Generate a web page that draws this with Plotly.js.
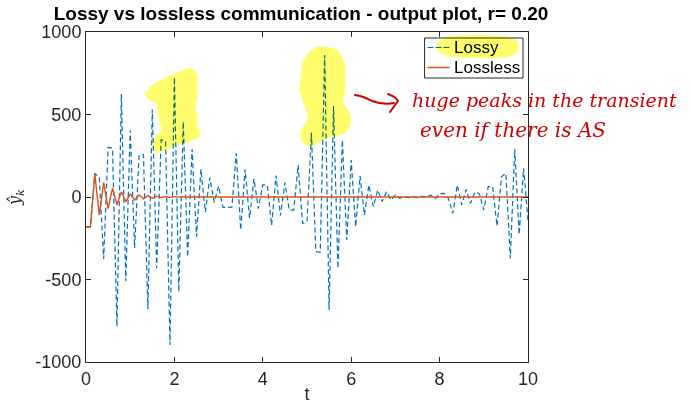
<!DOCTYPE html>
<html><head><meta charset="utf-8">
<script src="https://cdn.plot.ly/plotly-3.0.1.min.js"></script>
<style>html,body{margin:0;padding:0;background:#fff}#chart{width:691px;height:404px}</style>
</head><body><div id="chart"></div>
<script>
// ---- data ----
const t = [0,0.1,0.2,0.3,0.4,0.5,0.6,0.7,0.8,0.9,
 1,1.1,1.2,1.3,1.4,1.5,1.6,1.7,1.8,1.9,
 2,2.1,2.2,2.3,2.4,2.5,2.6,2.7,2.8,2.9,
 3,3.1,3.2,3.3,3.4,3.5,3.6,3.7,3.8,3.9,
 4,4.1,4.2,4.3,4.4,4.5,4.6,4.7,4.8,4.9,
 5,5.1,5.2,5.3,5.4,5.5,5.6,5.7,5.8,5.9,
 6,6.1,6.2,6.3,6.4,6.5,6.6,6.7,6.8,6.9,
 7,7.1,7.2,7.3,7.4,7.5,7.6,7.7,7.8,7.9,
 8,8.1,8.2,8.3,8.4,8.5,8.6,8.7,8.8,8.9,
 9,9.1,9.2,9.3,9.4,9.5,9.6,9.7,9.8,9.9,10];

const lossy = [-180,-180,143,120,-375,301,295,-784,624,-511,
 404,-309,250,258,-680,530,-432,347,337,-897,
 725,-574,455,-362,290,-240,169,-92,118,-32,
 66,-63,-63,-62,265,-200,168,-129,110,-70,
 73,73,-172,130,-112,87,-79,-79,194,-160,
 -150,390,-331,-335,860,-685,551,-432,345,-260,
 224,-180,127,-109,73,-59,42,-28,32,-18,
 12,-8,2,-4,2,-6,4,0,12,-10,
 20,22,-10,-99,73,-48,46,-38,30,20,
 -79,63,63,-176,123,143,-372,290,-228,174,
 -139];

const lossless = [-182,-182,140,-110,89,-71,54,-48,32,-28,
 18,-18,12,-11,8,-7,5,-4,3,-3,
 2,-1,1,0,0,0,0,0,0,0,
 0,0,0,0,0,0,0,0,0,0,
 0,0,0,0,0,0,0,0,0,0,
 0,0,0,0,0,0,0,0,0,0,
 0,0,0,0,0,0,0,0,0,0,
 0,0,0,0,0,0,0,0,0,0,
 0,0,0,0,0,0,0,0,0,0,
 0,0,0,0,0,0,0,0,0,0,
 0];

const seriesNames = ['Lossy', 'Lossless'];
const seriesColors = ['#0072BD', '#D95319'];
const xTicks = [0,2,4,6,8,10];
const xTickText = ['0','2','4','6','8','10'];
const yTicks = [-1000,-500,0,500,1000];
const yTickText = ['-1000','-500','0','500','1000'];
const titleText = 'Lossy vs lossless communication - output plot, r= 0.20';
const noteLines = ['huge peaks in the transient', 'even if there is AS'];

// ---- decoration geometry (pixel space of the 691x404 figure) ----
const P = {l:86, t:32, w:442, h:330};
const toPaper = ([x,y]) => [(x-P.l)/P.w, (P.t+P.h-y)/P.h];
function smoothClosed(pts){
  const q = pts.map(toPaper);
  const n = q.length;
  const mid = (a,b)=>[(a[0]+b[0])/2,(a[1]+b[1])/2];
  let m0 = mid(q[n-1], q[0]);
  let d = `M${m0[0]},${m0[1]}`;
  for (let i=0;i<n;i++){
    const p = q[i], m = mid(q[i], q[(i+1)%n]);
    d += ` Q${p[0]},${p[1]} ${m[0]},${m[1]}`;
  }
  return d + ' Z';
}
const blob1 = [[147,92],[157,83],[180,73],[190,68],[197,75],[195,87],[197,97],[193,107],[197,117],[195,127],[200,132],[197,138],[183,142],[177,143],[163,150],[157,152],[153,145],[155,138],[163,133],[162,123],[158,113],[160,103],[152,100],[146,95]];
const blob2 = [[323,48],[337,50],[342,60],[345,70],[343,80],[345,90],[340,102],[347,110],[350,120],[348,130],[338,135],[330,135],[320,140],[310,146],[302,140],[302,130],[308,123],[310,117],[307,108],[303,97],[300,87],[303,75],[303,63],[310,53],[317,48]];
const blob3 = [[441,40],[460,36],[500,37],[514,39],[519,47],[514,55],[490,57],[460,56],[443,54],[437,47]];

// legend box geometry (pixels)
const LG = {x0:425, x1:523, y0:38, y1:78, sx0:428, sx1:449, tx:452, rows:[47.5,67.5]};

const hl = 'rgb(255,255,110)';
function blobShape(pts){
  return {type:'path', xref:'paper', yref:'paper', path: smoothClosed(pts),
    fillcolor: hl, line:{color: hl, width: 3}, layer:'above'};
}
const axisCol = '#262626';
const lgA = toPaper([LG.x0, LG.y0]), lgB = toPaper([LG.x1, LG.y1]);
const legendShapes = [
  {type:'rect', xref:'paper', yref:'paper', x0:lgA[0], y0:lgA[1], x1:lgB[0], y1:lgB[1],
   fillcolor:'#fff', line:{color:axisCol, width:1}, layer:'above'}
];
LG.rows.forEach((ry,i)=>{
  const a = toPaper([LG.sx0, ry]), b = toPaper([LG.sx1, ry]);
  legendShapes.push({type:'line', xref:'paper', yref:'paper', x0:a[0], y0:a[1], x1:b[0], y1:b[1], layer:'above',
    line:{color:seriesColors[i], width: i===0?1.2:1.4, dash: i===0?'5px,3px':'solid'}});
});

const arrowCurve = [[355,95],[363,96],[372,101],[383,105],[394,103]].map(toPaper);
const arrowHead = [[388,94],[398,101],[390,112]].map(toPaper);
const red = 'rgb(205,0,0)';
const shapes = [
  blobShape(blob1), blobShape(blob2),
  ...legendShapes,
  blobShape(blob3),
  {type:'path', xref:'paper', yref:'paper', layer:'above', fillcolor:'rgba(0,0,0,0)',
   path:`M${arrowCurve[0]} Q${arrowCurve[1]} ${arrowCurve[2]} Q${arrowCurve[3]} ${arrowCurve[4]}`,
   line:{color:red, width:2}},
  {type:'path', xref:'paper', yref:'paper', layer:'above', fillcolor:'rgba(0,0,0,0)',
   path:`M${arrowHead[0]} Q${toPaper([396,97])} ${arrowHead[1]} L${arrowHead[2]}`,
   line:{color:red, width:2}}
];

const n1 = toPaper([410,100]), n2 = toPaper([418,130]);
const annotations = [
  {xref:'paper', yref:'paper', x:n1[0], y:n1[1], xanchor:'left', yanchor:'middle', showarrow:false,
   text:'<i>'+noteLines[0]+'</i>', font:{family:'DejaVu Serif', size:19, color:red}},
  {xref:'paper', yref:'paper', x:n2[0], y:n2[1], xanchor:'left', yanchor:'middle', showarrow:false,
   text:'<i>'+noteLines[1]+'</i>', font:{family:'DejaVu Serif', size:20, color:red}}
];
LG.rows.forEach((ry,i)=>{
  const p = toPaper([LG.tx, ry]);
  annotations.push({xref:'paper', yref:'paper', x:p[0], y:p[1], xanchor:'left', yanchor:'middle',
    showarrow:false, text:seriesNames[i], font:{family:'Liberation Sans, Arial, sans-serif', size:17, color:'#000'}});
});

const traces = [
  {x:t, y:lossy, name:seriesNames[0], type:'scatter', mode:'lines',
   line:{color:seriesColors[0], width:1.2, dash:'5px,3px'}},
  {x:t, y:lossless, name:seriesNames[1], type:'scatter', mode:'lines',
   line:{color:seriesColors[1], width:1.4}}
];

const layout = {
  width:691, height:404,
  margin:{l:P.l, r:691-P.l-P.w, t:P.t, b:404-P.t-P.h, pad:0},
  paper_bgcolor:'#fff', plot_bgcolor:'#fff',
  font:{family:'Liberation Sans, Arial, sans-serif', color:axisCol},
  title:{text:'<b>'+titleText+'</b>', xref:'container', x:301/691, xanchor:'center',
    yref:'container', y:1-13/404, yanchor:'middle',
    font:{family:'Liberation Sans, Arial, sans-serif', size:19, color:'#000'}},
  xaxis:{range:[0,10], tickvals:xTicks, ticktext:xTickText, ticks:'inside', ticklen:5,
    tickcolor:axisCol, mirror:'allticks', showline:true, linecolor:axisCol, linewidth:1,
    showgrid:false, zeroline:false, tickfont:{size:18, color:axisCol},
    title:{text:'t', font:{size:18, color:axisCol}, standoff:4}},
  yaxis:{range:[-1000,1000], tickvals:yTicks, ticktext:yTickText, ticks:'inside', ticklen:5,
    tickcolor:axisCol, mirror:'allticks', showline:true, linecolor:axisCol, linewidth:1,
    showgrid:false, zeroline:false, tickfont:{size:18, color:axisCol},
    title:{text:'<i>ŷ<sub>k</sub></i>', font:{family:'DejaVu Serif', size:16, color:axisCol}, standoff:10}},
  showlegend:false,
  shapes:shapes, annotations:annotations
};

Plotly.newPlot('chart', traces, layout, {staticPlot:true, displayModeBar:false}).then(()=>{
  document.querySelectorAll('.shapelayer path').forEach(p=>{
    const f = (p.style.fill || p.getAttribute('fill') || '');
    if (f.indexOf('255, 255, 110')>=0 || f.indexOf('255,255,110')>=0) {
      p.style.mixBlendMode = 'multiply';
    }
    p.style.strokeLinejoin = 'round';
    p.style.strokeLinecap = 'round';
  });
});
</script></body></html>
